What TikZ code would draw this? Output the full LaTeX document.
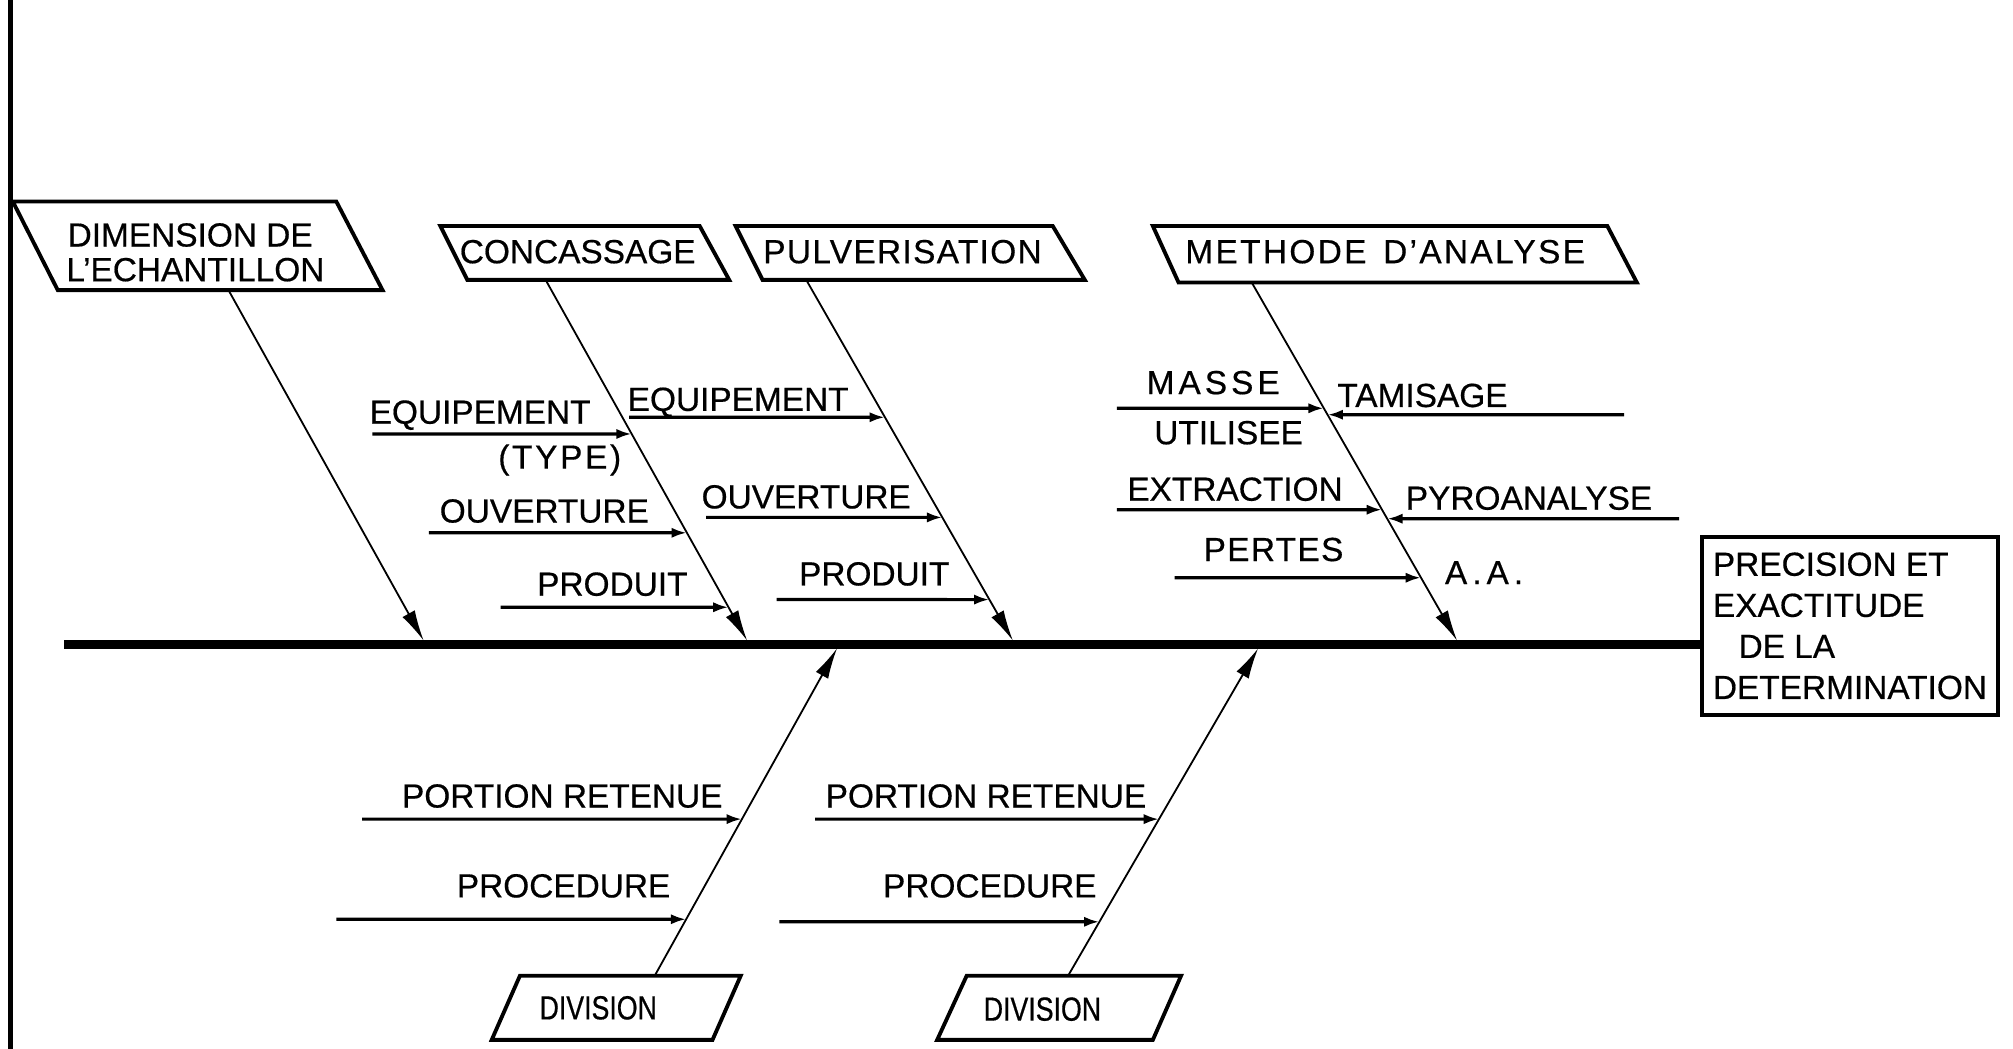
\documentclass[tikz,border=0pt]{standalone}
\usepackage{fontspec}
\setmainfont{Liberation Sans}[FakeBold=0.5]
\newfontfamily\etroit{Liberation Sans}[FakeStretch=0.8,FakeBold=0.5]
\usetikzlibrary{arrows.meta}

% fleche d'une cause secondaire vers son arete
\newcommand{\fleche}[3]{\draw[cause] (#1) -- (intersection cs:first line={(#2)--(#3)},second line={(#1)--(#1-|#3)});}

\begin{document}
\begin{tikzpicture}[x=0.01cm,y=-0.01cm,
  boite/.style={line width=0.85pt,line join=miter},
  arete/.style={line width=0.4pt,-{Latex[length=2.4mm,width=1.1mm]}},
  cause/.style={line width=0.7pt,-{Latex[length=1.2mm,width=0.8mm]}},
  texte/.style={font=\fontsize{7.4}{7.6}\selectfont,inner sep=0pt,anchor=base}]
\useasboundingbox (0,0) rectangle (1568,817);

\draw[line width=1.1pt] (8,0) -- (8,817); %marge%

% effet
\node[boite,draw,align=left,font=\fontsize{7.4}{9.1}\selectfont,minimum width=2.3cm,minimum height=1.39cm,inner sep=0pt] (effet) at (1441,487.5) {PRECISION ET\\EXACTITUDE\\\hspace*{0.2cm}DE LA\\DETERMINATION};
\coordinate (S) at (50,502);
\draw[line width=1.9pt] (S) -- (S -| effet.west); %epine%

% causes du haut
\draw[boite] (10,157) -- (262,157) -- (298,226) -- (45,226) -- cycle;
\node[texte,anchor=base west] (dim) at (52,192) {DIMENSION DE};
\node[texte,anchor=base west] (dimb) at (51,219) {L’ECHANTILLON};
\draw[boite] (343,176) -- (545,176) -- (568,218) -- (364,218) -- cycle;
\node[texte] (conc) at (450,205) {CONCASSAGE};
\draw[boite] (573,176) -- (820,176) -- (845,218) -- (594,218) -- cycle;
\node[texte] (pulv) at (703,205) {\addfontfeature{LetterSpace=4}PULVERISATION};
\draw[boite] (898,176) -- (1252,176) -- (1275,220) -- (918,220) -- cycle;
\node[texte] (meth) at (1079,205) {\addfontfeature{LetterSpace=7}METHODE\hspace{0.5em}D’ANALYSE};

% causes du bas
\draw[boite] (405,760) -- (577,760) -- (555,810) -- (383,810) -- cycle;
\node[texte,font=\etroit\fontsize{7.4}{7.6}\selectfont] (div1) at (466,794) {DIVISION};
\draw[boite] (753,760) -- (920,760) -- (898,810) -- (730,810) -- cycle;
\node[texte,font=\etroit\fontsize{7.4}{7.6}\selectfont] (div2) at (812,795) {DIVISION};

% aretes
\coordinate (dA) at (178,226);
\coordinate (dB) at (330,499);
\coordinate (cA) at (425,218);
\coordinate (cB) at (582,499);
\coordinate (pA) at (628,218);
\coordinate (pB) at (789,499);
\coordinate (mA) at (975,220);
\coordinate (mB) at (1135,499);
\coordinate (vA) at (510,760);
\coordinate (vB) at (652,505);
\coordinate (wA) at (832,760);
\coordinate (wB) at (980,505);
\draw[arete] (dA) -- (dB);
\draw[arete] (cA) -- (cB);
\draw[arete] (pA) -- (pB);
\draw[arete] (mA) -- (mB);
\draw[arete] (vA) -- (vB);
\draw[arete] (wA) -- (wB);

% concassage
\coordinate (c1) at (290,338);
\coordinate (c2) at (334,415);
\coordinate (c3) at (390,473);
\fleche{c1}{cA}{cB}
\fleche{c2}{cA}{cB}
\fleche{c3}{cA}{cB}
\node[texte] (tc1) at (374,330) {EQUIPEMENT};
\node[texte] (tc1b) at (436,365) {\addfontfeature{LetterSpace=8}(TYPE)};
\node[texte] (tc2) at (424,407) {OUVERTURE};
\node[texte] (tc3) at (477,464) {PRODUIT};

% pulverisation
\coordinate (p1) at (490,325);
\coordinate (p2) at (550,403);
\coordinate (p3) at (605,467);
\fleche{p1}{pA}{pB}
\fleche{p2}{pA}{pB}
\fleche{p3}{pA}{pB}
\node[texte] (tp1) at (575,320) {EQUIPEMENT};
\node[texte] (tp2) at (628,396) {OUVERTURE};
\node[texte] (tp3) at (681,456) {PRODUIT};

% methode d'analyse
\coordinate (m1) at (870,318);
\coordinate (m2) at (1265,323);
\coordinate (m3) at (870,397);
\coordinate (m4) at (1308,404);
\coordinate (m5) at (915,450);
\fleche{m1}{mA}{mB}
\fleche{m2}{mA}{mB}
\fleche{m3}{mA}{mB}
\fleche{m4}{mA}{mB}
\fleche{m5}{mA}{mB}
\node[texte] (tm1) at (945,307) {\addfontfeature{LetterSpace=12}MASSE};
\node[texte] (tm1b) at (957,346) {UTILISEE};
\node[texte] (tm2) at (1108,317) {TAMISAGE};
\node[texte] (tm3) at (962,390) {EXTRACTION};
\node[texte] (tm4) at (1191,397) {PYROANALYSE};
\node[texte] (tm5) at (992,437) {\addfontfeature{LetterSpace=4}PERTES};
\node[texte] (tm6) at (1156,455) {\addfontfeature{LetterSpace=15}A.A.};

% division
\coordinate (v1) at (282,638);
\coordinate (v2) at (262,716);
\coordinate (w1) at (635,638);
\coordinate (w2) at (607,718);
\fleche{v1}{vA}{vB}
\fleche{v2}{vA}{vB}
\fleche{w1}{wA}{wB}
\fleche{w2}{wA}{wB}
\node[texte] (tv1) at (438,629) {PORTION RETENUE};
\node[texte] (tv2) at (439,699) {PROCEDURE};
\node[texte] (tw1) at (768,629) {PORTION RETENUE};
\node[texte] (tw2) at (771,699) {PROCEDURE};

\end{tikzpicture}
\end{document}
